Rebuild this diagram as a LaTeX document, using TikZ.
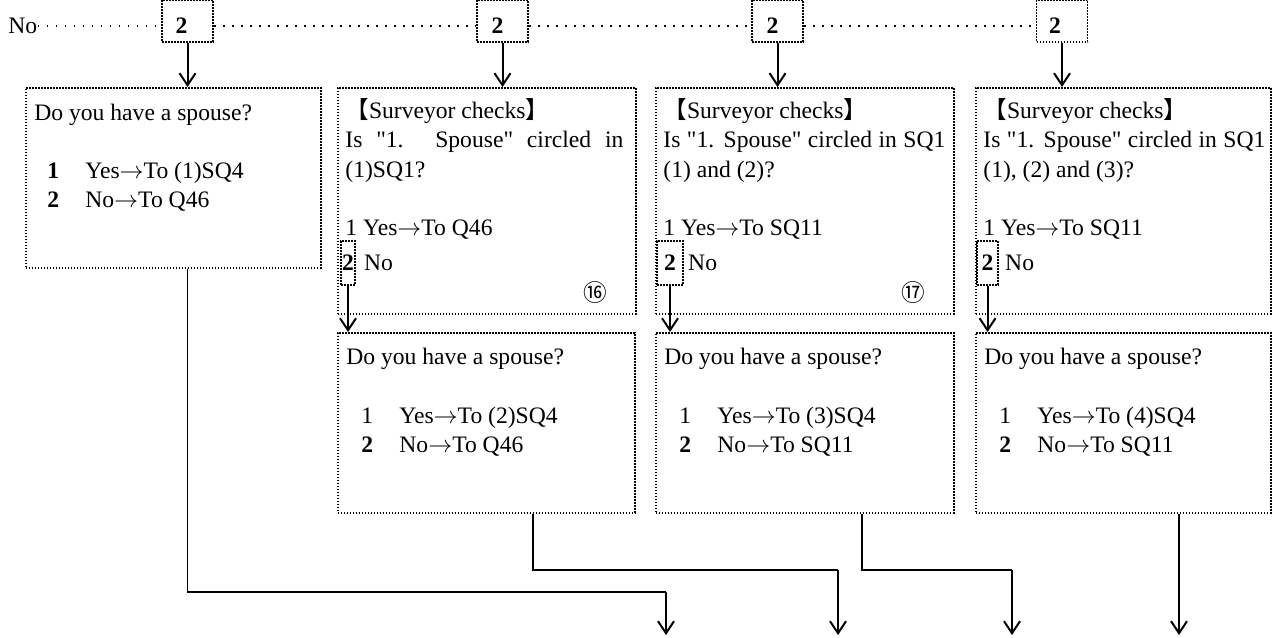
\documentclass[tikz,border=0pt]{standalone}
\usepackage{fontspec}
\setmainfont{Liberation Serif}[Ligatures=TeXOff]
\newfontfamily\cjk{Noto Sans CJK JP}
\usetikzlibrary{arrows.meta,positioning,calc}

\tikzset{
  dotbox/.style={draw, line width=0.8pt, dash pattern=on 0.8pt off 0.7pt, inner sep=0pt},
  askbox/.style={dotbox, anchor=north west, minimum width=#1, minimum height=90pt},
  checkbox/.style={dotbox, anchor=north west, minimum width=#1, minimum height=113pt},
  pickbox/.style={dotbox, minimum width=#1, minimum height=22pt},
  txt/.style={anchor=base west, inner sep=0pt},
  flow/.style={-{Straight Barb[length=6pt,width=8pt]}, line width=1pt},
  route/.style={line width=0.6pt},
  leader/.style={line width=0.9pt, dash pattern=on 0.9pt off 3.6pt},
}
\newcommand{\ansline}[2]{\makebox[19pt][l]{#1}#2}
\newcommand{\surveyhead}{{\cjk 【}Surveyor checks{\cjk 】}}
\newcommand{\goto}{$\rightarrow$}

\begin{document}
\begin{tikzpicture}[x=0.5pt, y=-0.5pt, font=\fontsize{11.8}{14.5}\selectfont]
        \useasboundingbox (0,0) rectangle (1272,637);
        % Define nodes
        \node (lead_no) [txt, anchor=west] at (8,26) {No};
        \node (pick1) [pickbox=25.5pt, minimum height=21pt, text height=12pt] at (187.5,21) {\makebox[12pt][l]{\textbf{2}}};
        \node (pick2) [pickbox=25.5pt, minimum height=21pt, text height=12pt] at (502.5,21) {\makebox[11pt][l]{\textbf{2}}};
        \node (pick3) [pickbox=25.5pt, minimum height=21pt, text height=12pt] at (777.5,21) {\makebox[11pt][l]{\textbf{2}}};
        \node (pick4) [pickbox=25.5pt, minimum height=21pt, text height=12pt] at (1062,21) {\makebox[13pt][l]{\textbf{2}}};

        \node (spouse1) [askbox=147.5pt] at (25,87) {};
        \node (spouse1_q) [txt] at ($(spouse1.north west)+(9,33)$) {Do you have a spouse?};
        \node (spouse1_yes) [txt] at ($(spouse1.north west)+(22,91)$) {\ansline{\textbf{1}}{Yes\goto To (1)SQ4}};
        \node (spouse1_no) [txt] at ($(spouse1.north west)+(22,120)$) {\ansline{\textbf{2}}{No\goto To Q46}};

        \node (check2) [checkbox=149pt] at (337,87) {};
        \node (check2_h) [txt] at ($(check2.north west)+(8,31)$) {\surveyhead};
        \node (check2_a) [txt] at ($(check2.north west)+(8,60)$) {\makebox[139pt][s]{Is "1. Spouse" circled in}};
        \node (check2_b) [txt] at ($(check2.north west)+(8,90)$) {(1)SQ1?};
        \node (check2_yes) [txt] at ($(check2.north west)+(8,148)$) {1 Yes\goto To Q46};
        \node (no2) [pickbox=7pt] at ($(check2.north west)+(11,176)$) {\textbf{2}};
        \node (no2_t) [txt, base right=4pt of no2] {No};
        \node (mark16) at ($(check2.north west)+(258,206)$) {\cjk ⑯};

        \node (check3) [checkbox=149pt] at (655,87) {};
        \node (check3_h) [txt] at ($(check3.north west)+(8,31)$) {\surveyhead};
        \node (check3_a) [txt] at ($(check3.north west)+(8,60)$) {\makebox[141pt][s]{Is "1. Spouse" circled in SQ1}};
        \node (check3_b) [txt] at ($(check3.north west)+(8,90)$) {(1) and (2)?};
        \node (check3_yes) [txt] at ($(check3.north west)+(8,148)$) {1 Yes\goto To SQ11};
        \node (no3) [pickbox=13pt] at ($(check3.north west)+(15,176)$) {\textbf{2}};
        \node (no3_t) [txt, base right=2pt of no3] {No};
        \node (mark17) at ($(check3.north west)+(258,206)$) {\cjk ⑰};

        \node (check4) [checkbox=147.5pt] at (975,87) {};
        \node (check4_h) [txt] at ($(check4.north west)+(8,31)$) {\surveyhead};
        \node (check4_a) [txt] at ($(check4.north west)+(8,60)$) {\makebox[141pt][s]{Is "1. Spouse" circled in SQ1}};
        \node (check4_b) [txt] at ($(check4.north west)+(8,90)$) {(1), (2) and (3)?};
        \node (check4_yes) [txt] at ($(check4.north west)+(8,148)$) {1 Yes\goto To SQ11};
        \node (no4) [pickbox=10.5pt] at ($(check4.north west)+(12.5,176)$) {\textbf{2}};
        \node (no4_t) [txt, base right=3pt of no4] {No};

        \node (spouse2) [askbox=148.5pt] at (337,332) {};
        \node (spouse2_q) [txt] at ($(spouse2.north west)+(9,32)$) {Do you have a spouse?};
        \node (spouse2_yes) [txt] at ($(spouse2.north west)+(24,91)$) {\ansline{1}{Yes\goto To (2)SQ4}};
        \node (spouse2_no) [txt] at ($(spouse2.north west)+(24,120)$) {\ansline{\textbf{2}}{No\goto To Q46}};

        \node (spouse3) [askbox=149pt] at (655,332) {};
        \node (spouse3_q) [txt] at ($(spouse3.north west)+(9,32)$) {Do you have a spouse?};
        \node (spouse3_yes) [txt] at ($(spouse3.north west)+(24,91)$) {\ansline{1}{Yes\goto To (3)SQ4}};
        \node (spouse3_no) [txt] at ($(spouse3.north west)+(24,120)$) {\ansline{\textbf{2}}{No\goto To SQ11}};

        \node (spouse4) [askbox=147.5pt] at (975,332) {};
        \node (spouse4_q) [txt] at ($(spouse4.north west)+(9,32)$) {Do you have a spouse?};
        \node (spouse4_yes) [txt] at ($(spouse4.north west)+(24,91)$) {\ansline{1}{Yes\goto To (4)SQ4}};
        \node (spouse4_no) [txt] at ($(spouse4.north west)+(24,120)$) {\ansline{\textbf{2}}{No\goto To SQ11}};

        \coordinate (bend1) at (666,592);
        \coordinate (bend2) at (838,570);
        \coordinate (bend3) at (1012,570);
        \coordinate (out1) at (666,635);
        \coordinate (out2) at (838,635);
        \coordinate (out3) at (1012,635);
        \coordinate (out4) at (1179,635);

        % Draw arrows
        \draw[leader] (lead_no.east) -- (lead_no.east -| pick1.west);
        \draw[leader] (pick1.east |- lead_no.east) -- (lead_no.east -| pick2.west);
        \draw[leader] (pick2.east |- lead_no.east) -- (lead_no.east -| pick3.west);
        \draw[leader] (pick3.east |- lead_no.east) -- (lead_no.east -| pick4.west);

        \draw[flow] (pick1) -- (pick1 |- spouse1.north);
        \draw[flow] (pick2) -- (pick2 |- check2.north);
        \draw[flow] (pick3) -- (pick3 |- check3.north);
        \draw[flow] (pick4) -- (pick4 |- check4.north);
        \draw[flow] (no2) -- (no2 |- spouse2.north);
        \draw[flow] (no3) -- (no3 |- spouse3.north);
        \draw[flow] (no4) -- (no4 |- spouse4.north);

        \draw[route] (pick1 |- spouse1.south) |- (bend1);
        \draw[flow] (bend1) -- (out1);
        \draw[route] ($(spouse2.south west)+(196,0)$) |- (bend2);
        \draw[flow] (bend2) -- (out2);
        \draw[route] ($(spouse3.south west)+(207,0)$) |- (bend3);
        \draw[flow] (bend3) -- (out3);
        \draw[flow] ($(spouse4.south west)+(204,0)$) -- (out4);
    \end{tikzpicture}
\end{document}
